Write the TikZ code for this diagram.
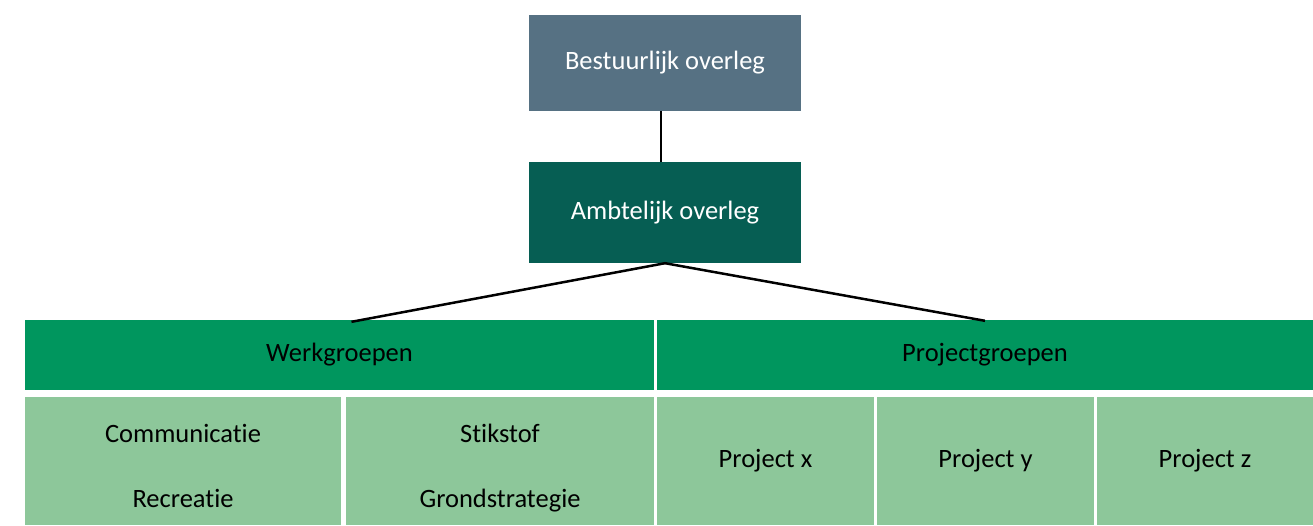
\documentclass[tikz,border=0pt]{standalone}
\usepackage{fontspec}
\setmainfont{Carlito}[Ligatures=NoCommon]
\usepackage{tikz}
\usetikzlibrary{positioning}

\definecolor{slategrey}{HTML}{567183}
\definecolor{darkteal}{HTML}{065E53}
\definecolor{midgreen}{HTML}{00965E}
\definecolor{lightgreen}{HTML}{8DC79A}

\tikzset{
    box/.style={rectangle, inner sep=0pt, font=\fontsize{26.5}{65}\selectfont, align=center},
    topbox/.style={box, fill=slategrey, text=white, minimum width=272pt, minimum height=96pt},
    ambbox/.style={box, fill=darkteal, text=white, minimum width=272pt, minimum height=101pt},
    headbox/.style={box, fill=midgreen, text=black, minimum height=70pt},
    subbox/.style={box, fill=lightgreen, text=black, minimum height=128pt},
    link/.style={line width=2.5pt, black}
}

\begin{document}
\begin{tikzpicture}[x=1pt, y=-1pt]
    \useasboundingbox (0, 0) rectangle (1313, 525);
    \clip (0, 0) rectangle (1313, 525);

    \node[topbox] (bestuur) at (665, 63) {Bestuurlijk overleg};
    \node[ambbox] (ambt) at (665, 212.5) {Ambtelijk overleg};

    \node[headbox, minimum width=629pt] (werk) at (339.5, 355) {Werkgroepen};
    \node[headbox, minimum width=656pt] (proj) at (985, 355) {Projectgroepen};

    % two lines per box, widely spaced
    \node[subbox, minimum width=316pt] (comm) at (183, 461) {};
    \node[subbox, minimum width=308pt] (stik) at (500, 461) {};
    \node[box] (commtext) at ([yshift=-7pt]comm.center) {\vphantom{Gkg}Communicatie\\\vphantom{Gkg}Recreatie};
    \node[box] (stiktext) at ([yshift=-7pt]stik.center) {\vphantom{Gkg}Stikstof\\\vphantom{Gkg}Grondstrategie};
    \node[subbox, minimum width=217pt] (projx) at (765.5, 461) {Project x};
    \node[subbox, minimum width=217pt] (projy) at (985.5, 461) {Project y};
    \node[subbox, minimum width=216pt] (projz) at (1205, 461) {Project z};

    \draw[link] ([xshift=-4pt]bestuur.south) -- ([xshift=-4pt]ambt.north);
    \draw[link] (ambt.south) -- ([xshift=12pt, yshift=-2pt]werk.north);
    \draw[link] (ambt.south) -- ([yshift=-1pt]proj.north);
\end{tikzpicture}
\end{document}
